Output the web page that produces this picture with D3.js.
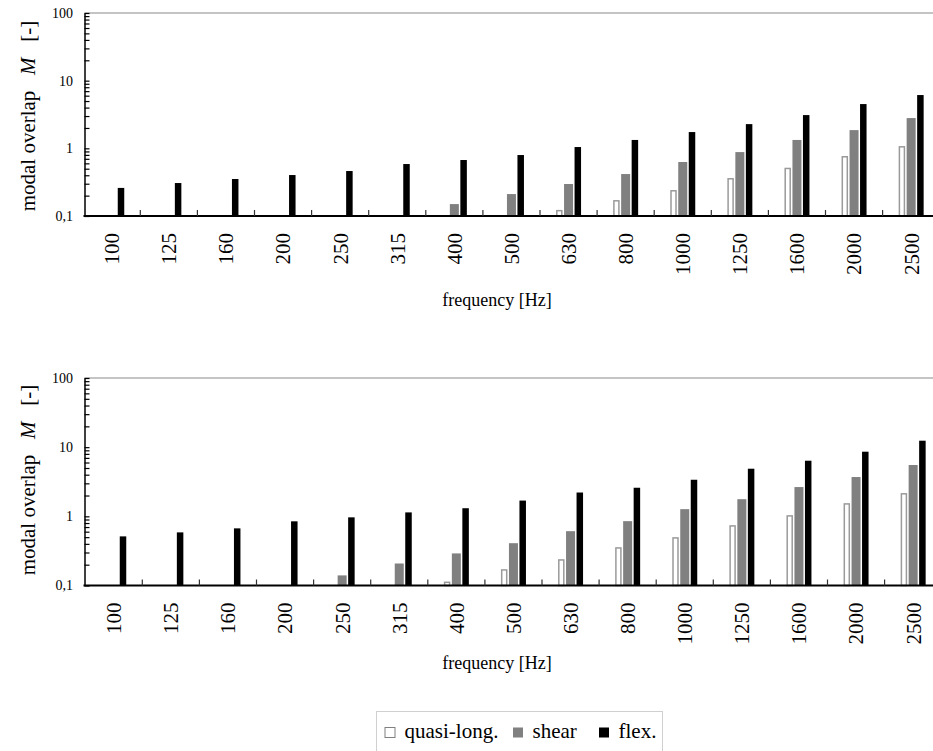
<!DOCTYPE html>
<html><head><meta charset="utf-8">
<script src="https://cdn.jsdelivr.net/npm/d3@7/dist/d3.min.js"></script>
<style>body{margin:0;background:#fff}svg{display:block}
svg text{font-family:"Liberation Serif","Times New Roman",serif;fill:#000}</style>
</head><body><svg id="c" width="933" height="751"></svg>
<script>
const categories = ["100","125","160","200","250","315","400","500","630","800","1000","1250","1600","2000","2500"];
const seriesNames = ["quasi-long.","shear","flex."];
// top chart
const topQuasi = [null,null,null,null,null,null,null,null,0.123,0.172,0.242,0.364,0.517,0.77,1.08];
const topShear = [null,null,null,null,null,null,0.150,0.211,0.297,0.417,0.628,0.88,1.33,1.86,2.80];
const topFlex  = [0.26,0.307,0.352,0.403,0.462,0.586,0.672,0.796,1.045,1.33,1.74,2.28,3.10,4.51,6.13];
// bottom chart
const botQuasi = [null,null,null,null,null,null,0.114,0.172,0.240,0.358,0.50,0.745,1.04,1.55,2.17];
const botShear = [null,null,null,null,0.140,0.208,0.291,0.409,0.610,0.852,1.27,1.77,2.65,3.70,5.52];
const botFlex  = [0.513,0.586,0.670,0.847,0.967,1.14,1.31,1.69,2.21,2.59,3.38,4.88,6.37,8.6,12.4];
const yTickValues = [0.1,1,10,100];
const yTickLabels = ["0,1","1","10","100"];

const svg = d3.select("#c");
const axisX = 84.5;

function drawChart(cfg){
  const {top, bottom, bandStart, quasi, shear, flex, titleY, ylabCenter} = cfg;
  const bw = 57.1;
  const x = d3.scaleBand().domain(categories).range([bandStart, bandStart + bw*categories.length]).paddingInner(0).paddingOuter(0);
  const y = d3.scaleLog().domain([0.1,100]).range([bottom, top]);
  const g = svg.append("g");

  // top border line
  g.append("line").attr("x1",axisX).attr("x2",933).attr("y1",y(100)).attr("y2",y(100))
    .attr("stroke","#b0b0b0").attr("stroke-width",1.5);

  // bars
  const layout = [
    {data: quasi, off:-12.5, w:6.5, fill:"#fff", stroke:"#9a9a9a", sw:1.5},
    {data: shear, off:-4.5, w:9, fill:"#808080", stroke:"none", sw:0},
    {data: flex, off:6, w:6.5, fill:"#000", stroke:"none", sw:0}
  ];
  layout.forEach(s=>{
    const rows = categories.map((c,i)=>({c, v:s.data[i]})).filter(d=>d.v!=null && d.v>0.1);
    g.selectAll(null).data(rows).enter().append("rect")
      .attr("x", d=> x(d.c) + x.bandwidth()/2 + s.off + (s.sw? s.sw/2:0))
      .attr("width", s.w - (s.sw? s.sw:0))
      .attr("y", d=> y(d.v) + (s.sw? s.sw/2:0))
      .attr("height", d=> y(0.1) - y(d.v) - (s.sw? s.sw/2:0))
      .attr("fill", s.fill).attr("stroke", s.stroke).attr("stroke-width", s.sw);
  });

  // y ticks (major+minor) drawn inward
  const allTicks = [];
  for (let e=-1; e<2; e++) for (let m=1; m<10; m++) allTicks.push(m*Math.pow(10,e));
  allTicks.push(100);
  const ya = d3.axisRight(y).tickValues(allTicks).tickSize(5).tickSizeOuter(0).tickFormat("");
  const yg = g.append("g").attr("transform",`translate(${axisX},0)`).call(ya);
  yg.select(".domain").attr("stroke","#000").attr("stroke-width",1.5);
  yg.selectAll(".tick line").attr("stroke","#000").attr("stroke-width",1.2);

  // y tick labels
  g.selectAll(null).data(yTickValues).enter().append("text")
    .attr("x", 73).attr("y", d=>y(d)).attr("dy","0.35em")
    .attr("text-anchor","end").style("font-size","14px")
    .text((d,i)=>yTickLabels[i]);

  // x axis baseline
  g.append("line").attr("x1",axisX-1).attr("x2",933).attr("y1",y(0.1)).attr("y2",y(0.1))
    .attr("stroke","#000").attr("stroke-width",2);
  // category boundary ticks
  g.selectAll(null).data(categories.slice(1)).enter().append("line")
    .attr("x1", d=>x(d)).attr("x2", d=>x(d))
    .attr("y1", y(0.1)).attr("y2", y(0.1)-6)
    .attr("stroke","#333").attr("stroke-width",1.2);

  // x labels
  g.selectAll(null).data(categories).enter().append("text")
    .attr("transform", d=>`translate(${x(d)+x.bandwidth()/2},${y(0.1)+17}) rotate(-90)`)
    .attr("text-anchor","end").attr("dy","0.35em").style("font-size","21px")
    .text(d=>d);

  // x title
  g.append("text").attr("x",497).attr("y",titleY).attr("text-anchor","middle")
    .style("font-size","18px").text("frequency [Hz]");

  // y title
  const yt = g.append("text").attr("transform",`translate(35,${ylabCenter}) rotate(-90)`)
    .attr("text-anchor","middle").style("font-size","21px");
  yt.append("tspan").text("modal overlap\u00a0\u00a0\u00a0");
  yt.append("tspan").style("font-style","italic").text("M");
  yt.append("tspan").text("\u00a0\u00a0\u00a0[-]");
}

drawChart({top:13, bottom:216, bandStart:83.2, quasi:topQuasi, shear:topShear, flex:topFlex, titleY:306, ylabCenter:116});
drawChart({top:378, bottom:585.5, bandStart:85.2, quasi:botQuasi, shear:botShear, flex:botFlex, titleY:669, ylabCenter:480});

// legend
const lg = svg.append("g");
lg.append("rect").attr("x",376.5).attr("y",711.5).attr("width",286).attr("height",45)
  .attr("fill","#fff").attr("stroke","#d0d0d0").attr("stroke-width",1);
const legendItems = [
  {name: seriesNames[0], x:384.5, fill:"#fff", stroke:"#808080"},
  {name: seriesNames[1], x:512.5, fill:"#808080", stroke:"none"},
  {name: seriesNames[2], x:598.5, fill:"#000", stroke:"none"}
];
legendItems.forEach(it=>{
  lg.append("rect").attr("x",it.x+0.5).attr("y",727.5).attr("width",10).attr("height",10)
    .attr("fill",it.fill).attr("stroke",it.stroke).attr("stroke-width",1);
  lg.append("text").attr("x",it.x+20).attr("y",738).style("font-size","21px").text(it.name);
});
</script></body></html>
